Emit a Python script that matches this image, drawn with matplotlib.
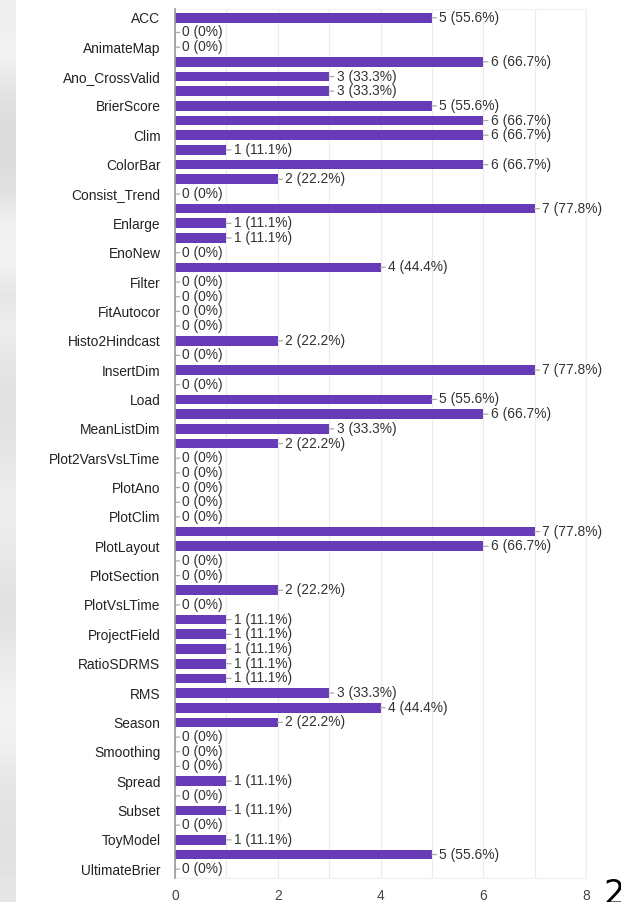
import matplotlib
matplotlib.use("Agg")
import matplotlib.pyplot as plt
import numpy as np

# Function names shown on the axis (every other row carries a label)
labels = ["ACC", "AnimateMap", "Ano_CrossValid", "BrierScore", "Clim", "ColorBar",
          "Consist_Trend", "Enlarge", "EnoNew", "Filter", "FitAutocor",
          "Histo2Hindcast", "InsertDim", "Load", "MeanListDim", "Plot2VarsVsLTime",
          "PlotAno", "PlotClim", "PlotLayout", "PlotSection", "PlotVsLTime",
          "ProjectField", "RatioSDRMS", "RMS", "Season", "Smoothing", "Spread",
          "Subset", "ToyModel", "UltimateBrier"]

# Number of responses per function (all rows, top to bottom)
counts = [5, 0, 0, 6, 3, 3, 5, 6, 6, 1, 6, 2, 0, 7, 1, 1, 0, 4, 0, 0,
          0, 0, 2, 0, 7, 0, 5, 6, 3, 2, 0, 0, 0, 0, 0, 7, 6, 0, 0, 2,
          0, 1, 1, 1, 1, 1, 3, 4, 2, 0, 0, 0, 1, 0, 1, 0, 1, 5, 0]
total_respondents = 9
x_ticks = [0, 2, 4, 6, 8]

plt.rcParams["font.family"] = ["Liberation Sans", "DejaVu Sans"]

W, H = 621, 902
fig = plt.figure(figsize=(W / 100, H / 100), dpi=100)
fig.patch.set_facecolor("white")

# soft grey strip along the left edge
strip = fig.add_axes([0, 0, 16 / W, 1])
shades = np.array([0.93, 0.95, 0.90, 0.86, 0.86, 0.88, 0.94, 0.95, 0.90, 0.93,
                   0.90, 0.88, 0.89, 0.91, 0.93, 0.92, 0.90, 0.88, 0.90, 0.93,
                   0.95, 0.94, 0.90, 0.89, 0.88, 0.90])
strip.imshow(shades[:, None], cmap="gray", vmin=0, vmax=1, aspect="auto",
             interpolation="bilinear", extent=[0, 1, 0, 1])
strip.axis("off")

left, right = 175 / W, 586 / W
top, bottom = 1 - 9 / H, 1 - 878 / H
ax = fig.add_axes([left, bottom, right - left, top - bottom])

n = len(counts)
pos = np.arange(n)
ax.barh(pos, counts, height=0.66, color="#673ab7", zorder=3)

for y, v in zip(pos, counts):
    pct = v / total_respondents * 100
    txt = "0 (0%)" if v == 0 else f"{v} ({pct:.1f}%)"
    ax.annotate(txt, xy=(v, y), xytext=(5.4, 0), textcoords="offset points",
                va="center", ha="left", fontsize=9.9, color="#333333",
                arrowprops=dict(arrowstyle="-", color="#aaaaaa", lw=0.9,
                                shrinkA=0, shrinkB=0), zorder=4)

ax.set_xlim(0, 8)
ax.set_ylim(n - 1 + 0.6, -0.6)
ax.set_xticks(x_ticks)
ax.set_xticks(np.arange(0, 9, 1), minor=True)
ax.set_yticks(pos[::2])
ax.set_yticklabels(labels, fontsize=9.9, color="#222222")
ax.tick_params(axis="y", length=0, pad=10.5)
ax.tick_params(axis="x", which="both", length=0, pad=8, labelsize=9.9,
               labelcolor="#444444")
ax.grid(axis="x", which="both", color="#ebebeb", lw=0.8, zorder=0)
for side in ["top", "right", "bottom"]:
    ax.spines[side].set_color("#f0f0f0")
    ax.spines[side].set_linewidth(0.8)
ax.spines["left"].set_color("#999999")
ax.spines["left"].set_linewidth(1.2)
ax.spines["left"].set_zorder(5)

fig.text(603 / W, 1 - 878 / H, "2", fontsize=24, color="black",
         ha="left", va="top", family="DejaVu Sans")

fig.savefig("out.png", dpi=100, facecolor="white")
